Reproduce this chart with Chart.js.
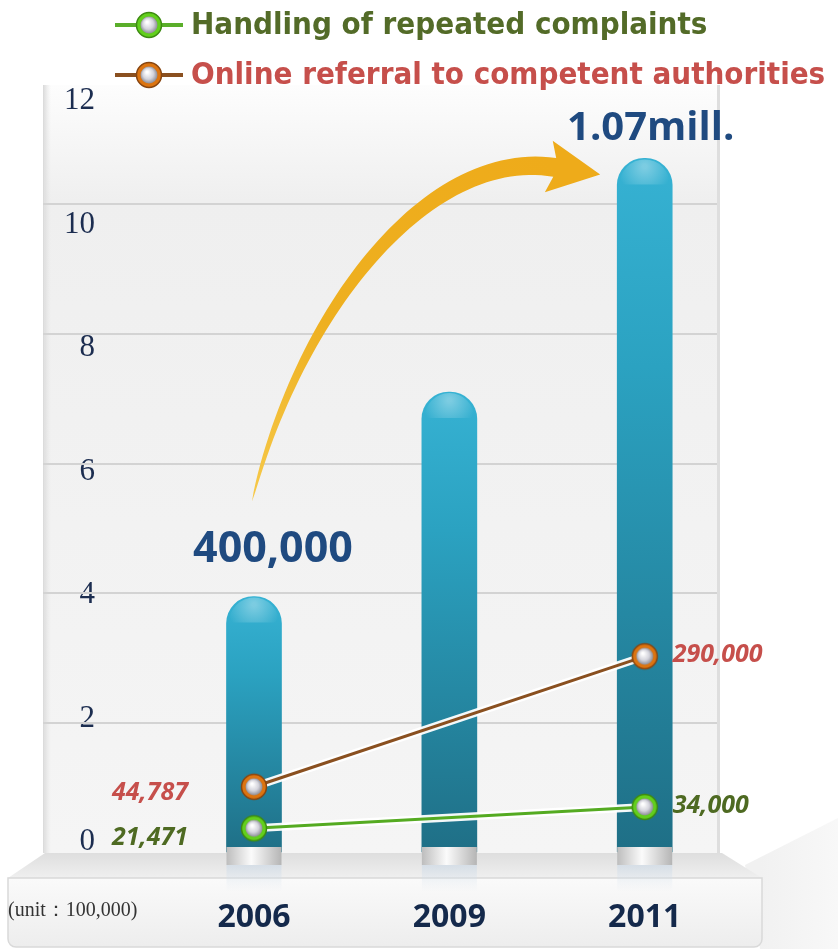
<!doctype html>
<html>
<head>
  <meta charset="utf-8">
  <script src="https://cdn.jsdelivr.net/npm/chart.js@4/dist/chart.umd.min.js"></script>
  <style>
    html, body { margin: 0; padding: 0; background: #fff; }
    #wrap { width: 838px; height: 949px; }
  </style>
</head>
<body>
  <div id="wrap"><canvas id="c" width="838" height="949"></canvas></div>
  <script>
    // data (unit: 100,000)
    const years = ['2006', '2009', '2011'];
    const totals = [3.95, 7.1, 10.7];
    const totalLabels = ['400,000', '', '1.07mill.'];
    const repeatedIdx = [0, 2];
    const repeatedVals = [0.38, 0.71];
    const repeatedLabels = ['21,471', '34,000'];
    const referralIdx = [0, 2];
    const referralVals = [1.02, 3.03];
    const referralLabels = ['44,787', '290,000'];
    const yTicks = [0, 2, 4, 6, 8, 10, 12];

    const pts = (idx, vals) => idx.map((i, k) => ({ x: i, y: vals[k] }));

    function marker(ring, edge, stub, w) {
      const c = document.createElement('canvas');
      c.width = w; c.height = 30;
      const x = c.getContext('2d');
      const cx = w / 2, cy = 15;
      if (stub) {
        x.fillStyle = stub;
        x.fillRect(0, cy - 2, w, 4);
      }
      x.beginPath(); x.arc(cx, cy, 12.5, 0, Math.PI * 2);
      x.fillStyle = ring; x.fill();
      x.lineWidth = 1.5; x.strokeStyle = edge; x.stroke();
      const g = x.createRadialGradient(cx - 2, cy - 3, 1, cx, cy, 9);
      g.addColorStop(0, '#ffffff'); g.addColorStop(0.55, '#d4d4dc'); g.addColorStop(1, '#85858f');
      x.beginPath(); x.arc(cx, cy, 8.5, 0, Math.PI * 2);
      x.fillStyle = g; x.fill();
      return c;
    }
    const greenPt = marker('#62cf1c', '#3d8a12', null, 30);
    const orangePt = marker('#dc7410', '#874510', null, 30);
    const greenLeg = marker('#62cf1c', '#3d8a12', '#5aae2a', 68);
    const orangeLeg = marker('#dc7410', '#874510', '#8a5020', 68);

    function barFill(c) {
      const ch = c.chart, y = ch.scales.y;
      if (!ch.chartArea || !c.raw) return '#2aa0c0';
      const t = y.getPixelForValue(c.raw.y), b = y.getPixelForValue(0);
      const g = ch.ctx.createLinearGradient(0, t, 0, b);
      g.addColorStop(0, '#36b2d3');
      g.addColorStop(0.3, '#2ba2c1');
      g.addColorStop(1, '#1f6f86');
      return g;
    }

    const decor = {
      id: 'decor',
      beforeDraw(chart) {
        const ctx = chart.ctx, a = chart.chartArea;
        ctx.save();
        // back panel
        let g = ctx.createLinearGradient(0, 85, 0, a.bottom);
        g.addColorStop(0, '#fdfdfd'); g.addColorStop(0.15, '#efefef'); g.addColorStop(1, '#f5f5f5');
        ctx.fillStyle = g;
        ctx.fillRect(a.left + 2, 85, a.right - a.left, a.bottom - 85);
        g = ctx.createLinearGradient(a.left, 0, a.left + 8, 0);
        g.addColorStop(0, '#d8d8d8'); g.addColorStop(1, 'rgba(230,230,230,0)');
        ctx.fillStyle = g;
        ctx.fillRect(a.left, 85, 8, a.bottom - 85);
        ctx.fillStyle = '#dedede';
        ctx.fillRect(a.right, 85, 3, a.bottom - 85);
        // right-hand wedge
        g = ctx.createLinearGradient(760, 0, 838, 0);
        g.addColorStop(0, '#f1f1f1'); g.addColorStop(1, '#f8f8f8');
        ctx.fillStyle = g;
        ctx.beginPath();
        ctx.moveTo(745, 865); ctx.lineTo(838, 818); ctx.lineTo(838, 949); ctx.lineTo(760, 949);
        ctx.closePath(); ctx.fill();
        // floor top face
        g = ctx.createLinearGradient(0, a.bottom, 0, a.bottom + 26);
        g.addColorStop(0, '#dedede'); g.addColorStop(1, '#f0f0f0');
        ctx.fillStyle = g;
        ctx.beginPath();
        ctx.moveTo(a.left + 2, a.bottom); ctx.lineTo(a.right + 5, a.bottom);
        ctx.lineTo(a.right + 45, a.bottom + 25); ctx.lineTo(8, a.bottom + 25);
        ctx.closePath(); ctx.fill();
        // floor front face
        g = ctx.createLinearGradient(0, a.bottom + 25, 0, 947);
        g.addColorStop(0, '#fafafa'); g.addColorStop(1, '#ededed');
        ctx.fillStyle = g;
        ctx.strokeStyle = '#d9d9d9'; ctx.lineWidth = 1.5;
        ctx.beginPath();
        ctx.roundRect(8, a.bottom + 25, a.right + 37, 947 - a.bottom - 25, [0, 0, 8, 8]);
        ctx.fill(); ctx.stroke();
        // y tick labels, placed with the label scale
        const ys = chart.scales.yLab;
        ctx.font = '31px "Liberation Serif", serif';
        ctx.fillStyle = '#1c2d50';
        ctx.textAlign = 'right'; ctx.textBaseline = 'middle';
        yTicks.forEach(v => ctx.fillText(String(v), a.left + 52, ys.getPixelForValue(v)));
        ctx.restore();
      },
      afterDatasetsDraw(chart) {
        const ctx = chart.ctx;
        const bars = chart.getDatasetMeta(0).data;
        ctx.save();
        // bar tops gloss and silver bases
        bars.forEach(b => {
          const w = 55, l = b.x - w / 2;
          let g = ctx.createRadialGradient(b.x, b.y + 8, 2, b.x, b.y + 12, 26);
          g.addColorStop(0, 'rgba(255,255,255,0.35)'); g.addColorStop(1, 'rgba(255,255,255,0)');
          ctx.fillStyle = g;
          ctx.beginPath(); ctx.arc(b.x, b.y + 26, 25, Math.PI, 0); ctx.fill();
          g = ctx.createLinearGradient(l, 0, l + w, 0);
          g.addColorStop(0, '#bdbdbd'); g.addColorStop(0.45, '#fbfbfb'); g.addColorStop(1, '#b5b5b5');
          ctx.fillStyle = g;
          ctx.fillRect(l, b.base - 5, w, 18);
          g = ctx.createLinearGradient(0, b.base + 13, 0, b.base + 40);
          g.addColorStop(0, 'rgba(200,215,230,0.55)'); g.addColorStop(1, 'rgba(220,230,240,0)');
          ctx.fillStyle = g;
          ctx.fillRect(l, b.base + 13, w, 27);
        });
        // big totals
        ctx.fillStyle = '#1f4a80';
        ctx.textAlign = 'center'; ctx.textBaseline = 'middle';
        ctx.font = 'bold 43px "Open Sans"';
        ctx.fillText(totalLabels[0], bars[0].x + 19, bars[0].y - 47);
        ctx.font = 'bold 40px "Open Sans"';
        ctx.fillText(totalLabels[2], bars[2].x + 6, bars[2].y - 30);
        // curved arrow
        const p0 = { x: bars[0].x - 2, y: bars[0].y - 95 };
        const p3 = { x: bars[2].x - 90, y: bars[2].y + 9 };
        const c1 = { x: p0.x + 45, y: p0.y - 185 };
        const c2 = { x: p3.x - 130, y: p3.y - 20 };
        const bez = (t, k) => (1 - t) ** 3 * p0[k] + 3 * (1 - t) ** 2 * t * c1[k] + 3 * (1 - t) * t * t * c2[k] + t ** 3 * p3[k];
        const der = (t, k) => 3 * (1 - t) ** 2 * (c1[k] - p0[k]) + 6 * (1 - t) * t * (c2[k] - c1[k]) + 3 * t * t * (p3[k] - c2[k]);
        const up = [], dn = [];
        for (let i = 0; i <= 60; i++) {
          const t = i / 60;
          const x = bez(t, 'x'), y = bez(t, 'y');
          let dx = der(t, 'x'), dy = der(t, 'y');
          const n = Math.hypot(dx, dy); dx /= n; dy /= n;
          const hw = 9.5 * Math.pow(t, 0.6);
          up.push([x + dy * hw, y - dx * hw]);
          dn.push([x - dy * hw, y + dx * hw]);
        }
        let dx = der(1, 'x'), dy = der(1, 'y');
        const n = Math.hypot(dx, dy); dx /= n; dy /= n;
        const ag = ctx.createLinearGradient(p0.x, p0.y, p3.x, p3.y);
        ag.addColorStop(0, '#f6c94a'); ag.addColorStop(0.4, '#eeb020'); ag.addColorStop(1, '#eeab1a');
        ctx.fillStyle = ag;
        ctx.beginPath();
        ctx.moveTo(up[0][0], up[0][1]);
        up.forEach(p => ctx.lineTo(p[0], p[1]));
        ctx.lineTo(p3.x + dy * 26 - dx * 6, p3.y - dx * 26 - dy * 6);
        ctx.lineTo(p3.x + dx * 46, p3.y + dy * 46);
        ctx.lineTo(p3.x - dy * 26 - dx * 6, p3.y + dx * 26 - dy * 6);
        dn.slice().reverse().forEach(p => ctx.lineTo(p[0], p[1]));
        ctx.closePath(); ctx.fill();
        ctx.restore();
      },
      afterDraw(chart) {
        const ctx = chart.ctx;
        ctx.save();
        // point value labels
        ctx.font = 'italic bold 25px "Open Sans"';
        ctx.textBaseline = 'middle';
        [[3, referralLabels, '#c64f4b', 6], [4, repeatedLabels, '#4e6a22', 10]].forEach(([di, labs, col, dy]) => {
          const meta = chart.getDatasetMeta(di);
          ctx.fillStyle = col;
          meta.data.forEach((p, i) => {
            if (i === 0) { ctx.textAlign = 'left'; ctx.fillText(labs[i], p.x - 142, p.y + dy); }
            else { ctx.textAlign = 'left'; ctx.fillText(labs[i], p.x + 28, p.y - 1); }
          });
        });
        // legend
        const leg = [[4, greenLeg, '#536b28', 25], [3, orangeLeg, '#c64f4b', 75]];
        ctx.textAlign = 'left';
        ctx.font = 'bold 31px "Liberation Sans Narrow", "DejaVu Sans Condensed", "Roboto Condensed", Arial';
        leg.forEach(([di, img, col, y]) => {
          ctx.drawImage(img, 115, y - 15);
          ctx.fillStyle = col;
          ctx.fillText(chart.data.datasets[di].label, 191, y + 1);
        });
        // unit note
        ctx.font = '20px "Liberation Serif", serif';
        ctx.fillStyle = '#333';
        ctx.fillText('(unit\uFF1A100,000)', 8, 911);
        ctx.restore();
      }
    };

    new Chart(document.getElementById('c'), {
      data: {
        datasets: [
          { type: 'bar', label: 'Total', data: pts([0, 1, 2], totals), backgroundColor: barFill,
            barThickness: 55, borderRadius: { topLeft: 27, topRight: 27 }, borderSkipped: 'bottom', order: 10 },
          { type: 'line', label: 'halo1', data: pts(referralIdx, referralVals), borderColor: 'rgba(255,255,255,0.95)',
            borderWidth: 8, pointRadius: 0, order: 5 },
          { type: 'line', label: 'halo2', data: pts(repeatedIdx, repeatedVals), borderColor: 'rgba(255,255,255,0.95)',
            borderWidth: 8, pointRadius: 0, order: 5 },
          { type: 'line', label: 'Online referral to competent authorities', data: pts(referralIdx, referralVals),
            borderColor: '#8a5020', borderWidth: 3, pointStyle: orangePt, order: 1 },
          { type: 'line', label: 'Handling of repeated complaints', data: pts(repeatedIdx, repeatedVals),
            borderColor: '#55ab22', borderWidth: 3, pointStyle: greenPt, order: 1 }
        ]
      },
      options: {
        responsive: false,
        animation: false,
        devicePixelRatio: 1,
        layout: { padding: { left: 43, right: 121, top: 74, bottom: 0 } },
        plugins: { legend: { display: false }, tooltip: { enabled: false } },
        scales: {
          x: {
            type: 'linear', min: -1.08, max: 2.37, offset: false,
            afterBuildTicks: s => { s.ticks = years.map((_, i) => ({ value: i })); },
            ticks: { callback: v => years[v], autoSkip: false, maxRotation: 0, padding: 46,
              font: { family: 'Open Sans', size: 32, weight: 'bold' }, color: '#14294b' },
            grid: { display: false, drawTicks: false }, border: { display: false },
            afterFit: s => { s.height = 96; }
          },
          y: {
            min: 0, max: 12,
            ticks: { display: false, stepSize: 2 },
            grid: { drawTicks: false, lineWidth: 2,
              color: c => (c.tick.value > 0 && c.tick.value < 12) ? '#d3d3d3' : 'rgba(0,0,0,0)' },
            border: { display: false },
            afterFit: s => { s.width = 0; }
          },
          yLab: {
            display: false, position: 'left', min: -0.178, max: 12.437
          }
        }
      },
      plugins: [decor]
    });
  </script>
</body>
</html>
